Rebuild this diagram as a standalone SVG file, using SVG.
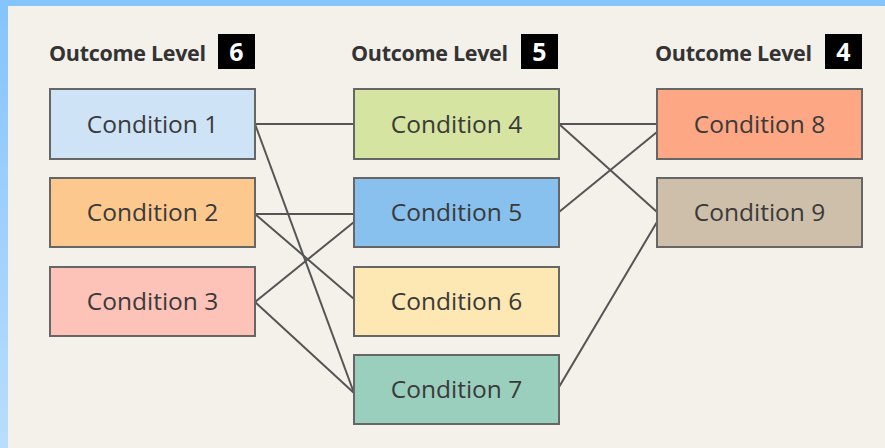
<svg xmlns="http://www.w3.org/2000/svg" width="885" height="448" viewBox="0 0 885 448">
  <defs>
    <linearGradient id="frame" x1="0" y1="0" x2="0" y2="1">
      <stop offset="0" stop-color="#84c4fc"/>
      <stop offset="1" stop-color="#b9ddfd"/>
    </linearGradient>
    <style>
      .node rect { stroke: #666; stroke-width: 2; }
      .node text { font-family: "Open Sans", "Noto Sans", sans-serif; font-size: 24.5px; fill: #3a3a3a; text-anchor: middle; }
      .hdr { font-family: "Open Sans", "Noto Sans", sans-serif; font-weight: bold; font-size: 21.5px; fill: #333; letter-spacing: -0.3px; }
      .badge rect { fill: #000; }
      .badge text { font-family: "Open Sans", "Noto Sans", sans-serif; font-weight: bold; font-size: 25px; fill: #fff; text-anchor: middle; }
      #connectors line { stroke: #555; stroke-width: 2; }
    </style>
  </defs>

  <!-- frame and panel -->
  <rect x="0" y="0" width="885" height="448" fill="url(#frame)"/>
  <rect x="8" y="6" width="877" height="442" fill="#f4f0ea"/>

  <!-- column headers -->
  <g id="header-6">
    <text class="hdr" x="49" y="61">Outcome Level</text>
    <g class="badge"><rect x="218" y="34" width="37" height="35"/><text x="236.5" y="61">6</text></g>
  </g>
  <g id="header-5">
    <text class="hdr" x="351" y="61">Outcome Level</text>
    <g class="badge"><rect x="521" y="34" width="37" height="35"/><text x="539.5" y="61">5</text></g>
  </g>
  <g id="header-4">
    <text class="hdr" x="655" y="61">Outcome Level</text>
    <g class="badge"><rect x="825" y="34" width="37" height="35"/><text x="843.5" y="61">4</text></g>
  </g>

  <!-- connectors -->
  <g id="connectors">
    <line x1="255" y1="124" x2="354" y2="124"/>
    <line x1="255" y1="124" x2="354" y2="393"/>
    <line x1="255" y1="214" x2="354" y2="214"/>
    <line x1="255" y1="214" x2="354" y2="299"/>
    <line x1="255" y1="302" x2="354" y2="222"/>
    <line x1="255" y1="302" x2="354" y2="393"/>
    <line x1="559" y1="124" x2="657" y2="124"/>
    <line x1="559" y1="124" x2="657" y2="212"/>
    <line x1="559" y1="212" x2="657" y2="132"/>
    <line x1="559" y1="387" x2="657" y2="222"/>
  </g>

  <!-- level 6 -->
  <g id="condition-1" class="node"><rect x="50" y="89" width="205" height="70" fill="#cfe3f6"/><text x="152.5" y="133">Condition 1</text></g>
  <g id="condition-2" class="node"><rect x="50" y="178" width="205" height="69" fill="#fdc88e"/><text x="152.5" y="221">Condition 2</text></g>
  <g id="condition-3" class="node"><rect x="50" y="267" width="205" height="69" fill="#fdc3b8"/><text x="152.5" y="310">Condition 3</text></g>

  <!-- level 5 -->
  <g id="condition-4" class="node"><rect x="354" y="89" width="205" height="70" fill="#d5e4a0"/><text x="456.5" y="133">Condition 4</text></g>
  <g id="condition-5" class="node"><rect x="354" y="178" width="205" height="69" fill="#88c0ee"/><text x="456.5" y="221">Condition 5</text></g>
  <g id="condition-6" class="node"><rect x="354" y="267" width="205" height="69" fill="#fde7b3"/><text x="456.5" y="310">Condition 6</text></g>
  <g id="condition-7" class="node"><rect x="354" y="355" width="205" height="69" fill="#9acfbd"/><text x="456.5" y="398">Condition 7</text></g>

  <!-- level 4 -->
  <g id="condition-8" class="node"><rect x="657" y="89" width="205" height="70" fill="#fda784"/><text x="759.5" y="133">Condition 8</text></g>
  <g id="condition-9" class="node"><rect x="657" y="178" width="205" height="69" fill="#cdbfa9"/><text x="759.5" y="221">Condition 9</text></g>
</svg>
